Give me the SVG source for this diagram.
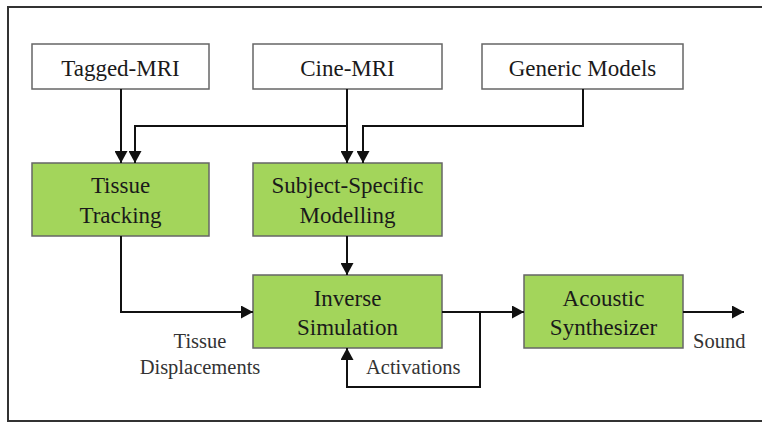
<svg xmlns="http://www.w3.org/2000/svg" width="762" height="422" viewBox="0 0 762 422">
  <defs>
    <marker id="arrow" viewBox="0 0 12 13" refX="12" refY="6.5" markerWidth="12" markerHeight="13" markerUnits="userSpaceOnUse" orient="auto">
      <path d="M0,0 L12,6.5 L0,13 Z" fill="#111"/>
    </marker>
  </defs>
  <style>
    .frame { fill: none; stroke: #333; stroke-width: 2; }
    .box { fill: #fff; stroke: #666; stroke-width: 1.5; }
    .proc { fill: #a3d55b; stroke: #666; stroke-width: 1.5; }
    .t { font-size: 23px; fill: #1a1a1a; text-anchor: middle; }
    .lbl { font-size: 20.5px; fill: #333; }
    .wire { fill: none; stroke: #111; stroke-width: 2; }
  </style>
  <rect width="762" height="422" fill="#fff"/>
  <path class="frame" d="M762,7 H8 V421 H762"/>

  <g font-family="'Liberation Serif', 'Times New Roman', 'DejaVu Serif', serif">
  <g id="tagged-mri">
    <rect class="box" x="32" y="44" width="177" height="45"/>
    <text class="t" x="120.5" y="76">Tagged-MRI</text>
  </g>
  <g id="cine-mri">
    <rect class="box" x="253" y="44" width="189" height="45"/>
    <text class="t" x="347.5" y="76">Cine-MRI</text>
  </g>
  <g id="generic-models">
    <rect class="box" x="482" y="44" width="201" height="45"/>
    <text class="t" x="582.5" y="76">Generic Models</text>
  </g>
  <g id="tissue-tracking">
    <rect class="proc" x="32" y="163" width="177" height="73"/>
    <text class="t" x="120.5" y="193">Tissue</text>
    <text class="t" x="120.5" y="223">Tracking</text>
  </g>
  <g id="subject-specific-modelling">
    <rect class="proc" x="253" y="163" width="189" height="73"/>
    <text class="t" x="347.5" y="193">Subject-Specific</text>
    <text class="t" x="347.5" y="223">Modelling</text>
  </g>
  <g id="inverse-simulation">
    <rect class="proc" x="253" y="275" width="189" height="73"/>
    <text class="t" x="347.5" y="306">Inverse</text>
    <text class="t" x="347.5" y="335">Simulation</text>
  </g>
  <g id="acoustic-synthesizer">
    <rect class="proc" x="524" y="275" width="159" height="73"/>
    <text class="t" x="603.5" y="306">Acoustic</text>
    <text class="t" x="603.5" y="335">Synthesizer</text>
  </g>

  <g id="connectors">
    <!-- Tagged-MRI to Tissue Tracking -->
    <path class="wire" d="M121,89 V163" marker-end="url(#arrow)"/>
    <!-- Cine-MRI to Subject-Specific Modelling, with branch to Tissue Tracking -->
    <path class="wire" d="M347,89 V163" marker-end="url(#arrow)"/>
    <path class="wire" d="M347,126 H135 V163" marker-end="url(#arrow)"/>
    <!-- Generic Models to Subject-Specific Modelling -->
    <path class="wire" d="M583,89 V126 H363 V163" marker-end="url(#arrow)"/>
    <!-- Subject-Specific Modelling to Inverse Simulation -->
    <path class="wire" d="M347,236 V275" marker-end="url(#arrow)"/>
    <!-- Tissue displacements -->
    <path class="wire" d="M121,236 V312 H253" marker-end="url(#arrow)"/>
    <!-- Inverse Simulation to Acoustic Synthesizer -->
    <path class="wire" d="M442,312 H524" marker-end="url(#arrow)"/>
    <!-- Activations feedback loop -->
    <path class="wire" d="M480,312 V387 H347 V348" marker-end="url(#arrow)"/>
    <!-- Sound output -->
    <path class="wire" d="M683,312 H744" marker-end="url(#arrow)"/>
  </g>

  <g id="labels">
    <text class="lbl" x="200" y="348" text-anchor="middle">Tissue</text>
    <text class="lbl" x="200" y="374" text-anchor="middle">Displacements</text>
    <text class="lbl" x="366" y="374">Activations</text>
    <text class="lbl" x="693" y="348">Sound</text>
  </g>
  </g>
</svg>
